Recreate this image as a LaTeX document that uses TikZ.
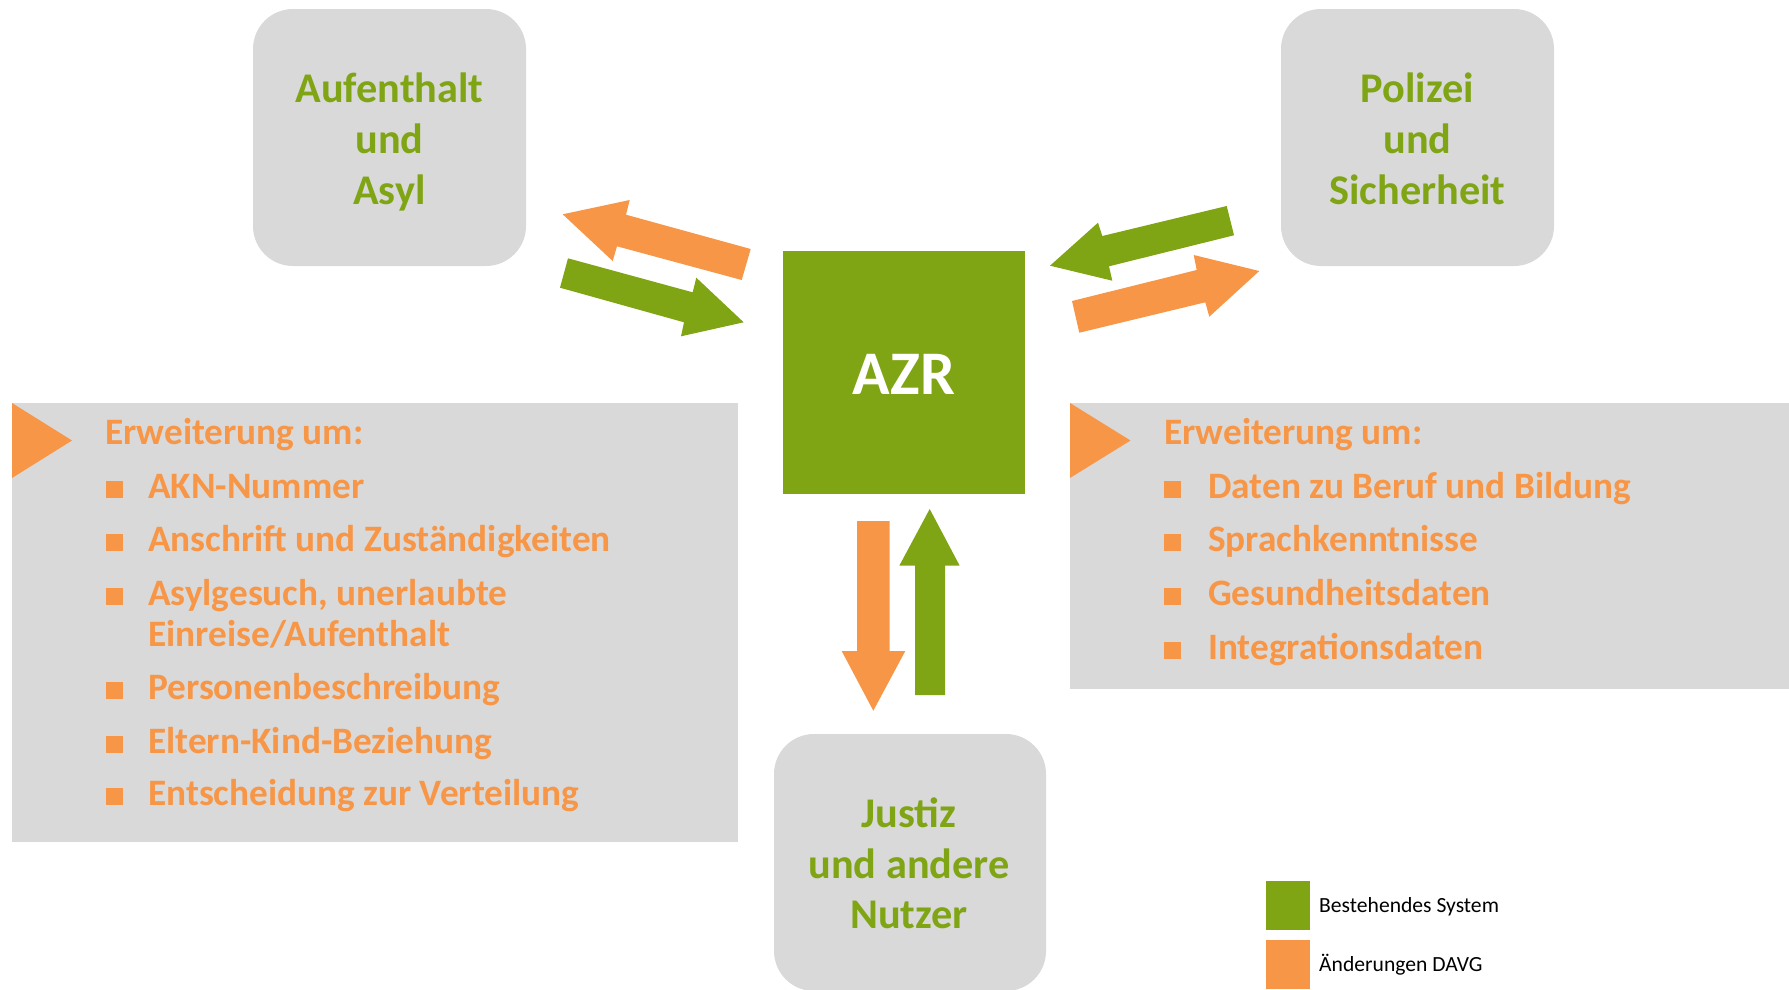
\documentclass[tikz,border=0pt]{standalone}
\usepackage{fontspec}
\setmainfont{Carlito}
\definecolor{azrgreen}{RGB}{128,165,20}
\definecolor{azrorange}{RGB}{247,150,70}
\definecolor{azrgray}{RGB}{217,217,217}
\tikzset{
  boxbg/.style={fill=azrgray, draw=none, rounded corners=40pt},
  boxtxt/.style={anchor=base, text=azrgreen, font=\bfseries\fontsize{42.3}{51}\selectfont, inner sep=0pt},
  paneltxt/.style={anchor=base west, text=azrorange, font=\bfseries\fontsize{37.3}{41}\selectfont, inner sep=0pt},
  bulletsq/.style={fill=azrorange, draw=none},
  legtxt/.style={anchor=base west, text=black, font=\fontsize{21.6}{25}\selectfont, inner sep=0pt},
  garrow/.style={fill=azrgreen, draw=none},
  oarrow/.style={fill=azrorange, draw=none},
}
\begin{document}
\begin{tikzpicture}[x=1pt,y=-1pt]
\useasboundingbox (0,0) rectangle (1789,989);
\begin{scope}
\clip (0,0) rectangle (1789,989);
% top boxes
\fill[boxbg] (253,9) rectangle (526,266);
\fill[boxbg] (1281,9) rectangle (1554,266);
\fill[boxbg] (774,734) rectangle (1046,991);
\end{scope}
\node[boxtxt] (a1) at (389.5,102) {Aufenthalt};
\node[boxtxt] (a2) at (389.5,153) {und};
\node[boxtxt] (a3) at (389.5,204) {Asyl};
\node[boxtxt] (p1) at (1417.5,102) {Polizei};
\node[boxtxt] (p2) at (1417.5,153) {und};
\node[boxtxt] (p3) at (1417.5,204) {Sicherheit};
\node[boxtxt] (j1) at (909,827) {Justiz};
\node[boxtxt] (j2) at (909,878) {und andere};
\node[boxtxt] (j3) at (909,928) {Nutzer};
% AZR
\fill[azrgreen] (783,251) rectangle (1025,494);
\node[anchor=base, text=white, font=\bfseries\fontsize{62}{74}\selectfont, inner sep=0pt] (azr) at (904,394) {AZR};
% panels
\fill[azrgray] (12,403) rectangle (738,842);
\fill[azrgray] (1070,403) rectangle (1789,689);
\fill[azrorange] (12,403) -- (72,440.5) -- (12,478) -- cycle;
\fill[azrorange] (1070,403) -- (1130.5,440.5) -- (1070,478) -- cycle;
% left panel text
\node[paneltxt] (l0) at (105,444) {Erweiterung um:};
\foreach \y/\t [count=\i] in {498/AKN-Nummer, 551/Anschrift und Zuständigkeiten, 605/{Asylgesuch, unerlaubte}, 699/Personenbeschreibung, 753/Eltern-Kind-Beziehung, 805/Entscheidung zur Verteilung}{
  \node[paneltxt] (l\i) at (148,\y) {\t};
  \fill[bulletsq] (106,\y) rectangle (123,\y-17);
}
\node[paneltxt] (l3b) at (148,646) {Einreise/Aufenthalt};
% right panel text
\node[paneltxt] (r0) at (1164,444) {Erweiterung um:};
\foreach \y/\t [count=\i] in {498/Daten zu Beruf und Bildung, 551/Sprachkenntnisse, 605/Gesundheitsdaten, 659/Integrationsdaten}{
  \node[paneltxt] (r\i) at (1208,\y) {\t};
  \fill[bulletsq] (1164,\y) rectangle (1181,\y-17);
}
% arrows top-left
\fill[oarrow] (562.7,214.3) -- (629.7,200) -- (626,214.7) -- (750.7,249) -- (741.7,280) -- (617,246.3) -- (612.7,261) -- cycle;
\fill[garrow] (568,258.3) -- (692.7,292.3) -- (696.3,277.7) -- (743.7,322.3) -- (681,336.3) -- (684,322.3) -- (560,287.7) -- cycle;
% arrows top-right
\fill[garrow] (1226.7,206) -- (1102.3,236) -- (1098,222.7) -- (1050,265.7) -- (1112.3,280.7) -- (1109,266.3) -- (1234,235.3) -- cycle;
\fill[oarrow] (1072,301) -- (1196.7,270) -- (1193.7,255) -- (1259.3,271) -- (1209.3,316.7) -- (1205.3,302.3) -- (1079.3,332.7) -- cycle;
% arrows bottom
\fill[oarrow] (857,521) -- (889.7,521) -- (889.7,651) -- (905.3,651) -- (873.3,710.7) -- (841.7,651) -- (857,651) -- cycle;
\fill[garrow] (915,695) -- (945,695) -- (945,565.7) -- (959.7,565.7) -- (929.7,509) -- (899.3,565.7) -- (915,565.7) -- cycle;
% legend
\fill[azrgreen] (1266,881) rectangle (1310,930);
\fill[azrorange] (1266,940) rectangle (1310,989);
\node[legtxt] (lg1) at (1319,912) {Bestehendes System};
\node[legtxt] (lg2) at (1319,971) {Änderungen DAVG};
\end{tikzpicture}
\end{document}
